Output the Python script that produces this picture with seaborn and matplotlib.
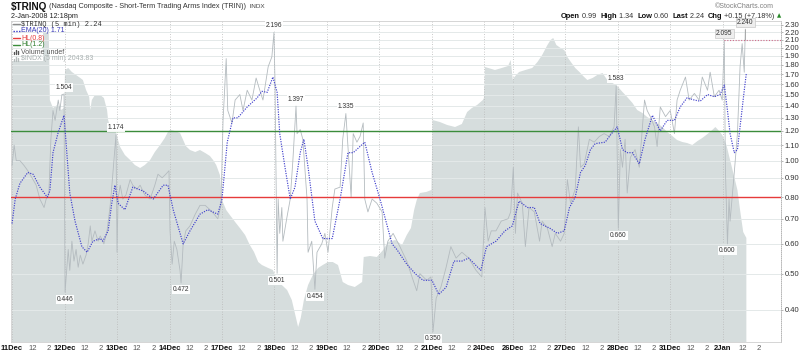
import matplotlib
matplotlib.use('Agg')
import matplotlib.pyplot as plt
import numpy as np
import pandas as pd
import seaborn as sns
from matplotlib.lines import Line2D
from matplotlib.patches import Rectangle
from matplotlib.ticker import NullLocator

# trading sessions shown on the x axis (x unit = one full trading day)
days = ['11Dec', '12Dec', '13Dec', '14Dec', '17Dec', '18Dec', '19Dec', '20Dec',
        '21Dec', '24Dec', '26Dec', '27Dec', '28Dec', '31Dec', '2Jan']
session_hours = [6.5, 6.5, 6.5, 6.5, 6.5, 6.5, 6.5, 6.5, 6.5, 3.5, 6.5, 6.5, 6.5, 6.5, 6.5]
hour_labels = ['12', '2']
hour_offsets = [2.5, 4.5]   # hours after the open

# $TRINQ 5 min
trin_t = [0.00, 0.04, 0.08, 0.15, 0.23, 0.30, 0.38, 0.46, 0.53, 0.61, 0.65, 0.70, 0.74, 0.78,
          0.82, 0.88, 0.91, 0.95, 0.99, 1.01, 1.07, 1.10, 1.14, 1.18, 1.22, 1.26, 1.30, 1.35,
          1.41, 1.45, 1.49, 1.52, 1.58, 1.64, 1.68, 1.75, 1.81, 1.87, 1.92, 1.98, 2.00, 2.02,
          2.06, 2.11, 2.17, 2.25, 2.30, 2.38, 2.44, 2.53, 2.63, 2.72, 2.78, 2.86, 2.93, 2.99,
          3.01, 3.05, 3.09, 3.14, 3.20, 3.22, 3.26, 3.31, 3.39, 3.49, 3.58, 3.68, 3.77, 3.85,
          3.92, 3.98, 4.02, 4.08, 4.11, 4.19, 4.25, 4.34, 4.40, 4.48, 4.57, 4.65, 4.72, 4.78,
          4.88, 4.95, 4.99, 5.01, 5.05, 5.07, 5.10, 5.14, 5.16, 5.24, 5.30, 5.35, 5.41, 5.43,
          5.49, 5.54, 5.62, 5.64, 5.71, 5.77, 5.81, 5.90, 5.96, 6.02, 6.10, 6.15, 6.25, 6.30,
          6.36, 6.40, 6.46, 6.50, 6.57, 6.63, 6.69, 6.72, 6.78, 6.86, 6.95, 7.05, 7.10, 7.16,
          7.26, 7.39, 7.52, 7.62, 7.71, 7.77, 7.90, 7.98, 8.02, 8.08, 8.17, 8.27, 8.36, 8.46,
          8.57, 8.70, 8.84, 8.95, 9.01, 9.07, 9.13, 9.22, 9.32, 9.45, 9.50, 9.55, 9.59, 9.63,
          9.72, 9.78, 9.85, 9.95, 10.05, 10.10, 10.20, 10.29, 10.35, 10.45, 10.52, 10.58,
          10.64, 10.73, 10.79, 10.83, 10.90, 11.00, 11.09, 11.19, 11.28, 11.38, 11.47, 11.51,
          11.55, 11.59, 11.63, 11.68, 11.72, 11.78, 11.87, 11.95, 12.05, 12.10, 12.16, 12.24,
          12.29, 12.35, 12.45, 12.54, 12.62, 12.67, 12.73, 12.83, 12.90, 13.00, 13.09, 13.15,
          13.25, 13.30, 13.38, 13.47, 13.53, 13.57, 13.59, 13.63, 13.66, 13.68, 13.76, 13.82,
          13.87, 13.91, 13.95, 13.97]
trin_v = [0.97, 1.10, 1.00, 1.00, 0.97, 0.94, 0.90, 0.86, 0.79, 0.75, 0.79, 0.81, 1.14, 1.36,
          1.28, 1.45, 1.36, 1.50, 1.504, 0.446, 0.58, 0.51, 0.61, 0.54, 0.58, 0.52, 0.56, 0.53,
          0.56, 0.60, 0.67, 0.61, 0.65, 0.61, 0.63, 0.60, 0.65, 0.76, 0.92, 1.174, 0.57, 0.79,
          0.86, 0.79, 0.81, 0.89, 0.86, 0.84, 0.86, 0.81, 0.79, 0.86, 0.92, 0.90, 0.92, 0.94,
          0.65, 0.53, 0.61, 0.58, 0.51, 0.472, 0.60, 0.65, 0.67, 0.72, 0.76, 0.76, 0.74, 0.72,
          0.70, 0.76, 1.28, 1.87, 1.36, 1.26, 1.45, 1.50, 1.36, 1.54, 1.45, 1.66, 1.54, 1.45,
          1.78, 1.89, 2.196, 1.61, 0.501, 0.79, 0.64, 0.75, 0.61, 0.71, 0.79, 1.00, 1.397, 1.18,
          1.21, 1.14, 0.79, 0.57, 0.61, 0.454, 0.57, 0.60, 0.64, 0.57, 0.75, 0.84, 0.85, 1.14,
          1.335, 1.09, 0.80, 1.18, 1.12, 1.16, 1.26, 0.79, 0.73, 0.79, 0.77, 0.73, 0.55, 0.61,
          0.64, 0.59, 0.54, 0.49, 0.45, 0.50, 0.48, 0.49, 0.350, 0.43, 0.46, 0.52, 0.59, 0.55,
          0.57, 0.55, 0.51, 0.49, 0.75, 0.61, 0.65, 0.65, 0.69, 0.70, 0.73, 0.96, 0.64, 0.82,
          0.77, 0.59, 0.75, 0.73, 0.61, 0.69, 0.66, 0.59, 0.64, 0.61, 0.64, 0.89,
          0.77, 0.84, 1.23, 0.96, 0.98, 1.14, 1.12, 1.16, 1.18, 1.16, 1.23, 1.583,
          0.660, 1.07, 0.96, 1.14, 0.82, 1.02, 1.07, 0.96, 1.45, 1.36, 1.31, 1.23,
          1.09, 1.39, 1.31, 1.36, 1.18, 1.45, 1.54, 1.67, 1.45, 1.51, 1.45, 1.67,
          1.54, 1.72, 1.48, 1.54, 1.45, 2.095, 0.96, 0.600, 0.79, 0.69, 0.93, 1.18,
          1.78, 2.05, 1.72, 2.24]

# EMA(20) of $TRINQ
ema_t = [0.00, 0.06, 0.15, 0.30, 0.40, 0.53, 0.67, 0.72, 0.78, 0.88, 0.99, 1.05, 1.10, 1.20,
         1.33, 1.43, 1.54, 1.68, 1.73, 1.83, 1.90, 1.96, 2.02, 2.15, 2.30, 2.50, 2.69, 2.88,
         2.97, 3.07, 3.26, 3.39, 3.58, 3.73, 3.92, 4.00, 4.10, 4.21, 4.30, 4.48, 4.67, 4.76,
         4.86, 4.97, 5.05, 5.10, 5.20, 5.30, 5.39, 5.49, 5.56, 5.64, 5.77, 5.92, 6.10, 6.25,
         6.40, 6.50, 6.72, 6.86, 7.01, 7.24, 7.33, 7.52, 7.68, 7.83, 8.00, 8.13, 8.27, 8.42,
         8.57, 8.70, 8.93, 9.04, 9.22, 9.39, 9.53, 9.66, 9.82, 9.95, 10.06, 10.25, 10.39,
         10.52, 10.62, 10.73, 10.83, 10.92, 11.02, 11.11, 11.30, 11.40, 11.53, 11.63, 11.72,
         11.82, 11.95, 12.06, 12.20, 12.35, 12.48, 12.62, 12.73, 12.86, 13.00, 13.11, 13.25,
         13.38, 13.49, 13.57, 13.63, 13.68, 13.76, 13.82, 13.87, 13.95, 13.99]
ema_v = [0.68, 0.79, 0.87, 0.93, 0.92, 0.85, 0.80, 0.83, 1.05, 1.19, 1.32, 1.02, 0.82, 0.69,
         0.59, 0.57, 0.61, 0.62, 0.61, 0.65, 0.77, 0.86, 0.77, 0.74, 0.85, 0.83, 0.79, 0.86,
         0.86, 0.74, 0.60, 0.65, 0.72, 0.74, 0.72, 0.79, 1.12, 1.30, 1.30, 1.39, 1.47, 1.53,
         1.52, 1.67, 1.52, 1.18, 0.96, 0.79, 0.85, 1.05, 1.14, 0.96, 0.69, 0.62, 0.62, 0.79,
         1.05, 1.05, 1.12, 0.93, 0.79, 0.60, 0.58, 0.53, 0.50, 0.48, 0.48, 0.44, 0.46, 0.54,
         0.54, 0.55, 0.51, 0.59, 0.61, 0.65, 0.67, 0.78, 0.75, 0.75, 0.68, 0.66, 0.64,
         0.65, 0.75, 0.80, 0.93, 0.97, 1.07, 1.11, 1.12, 1.17, 1.23, 1.07, 1.05,
         1.05, 0.98, 1.14, 1.32, 1.20, 1.28, 1.28, 1.39, 1.47, 1.45, 1.44, 1.50,
         1.48, 1.50, 1.59, 1.36, 1.18, 1.05, 1.07, 1.23, 1.54, 1.71]

# $INDX 5 min (drawn as the grey area)
indx_t = [0.00, 0.15, 0.34, 0.53, 0.65, 0.70, 0.72, 0.78, 0.86, 0.93, 0.99, 1.01, 1.07, 1.14,
          1.22, 1.30, 1.35, 1.41, 1.47, 1.49, 1.52, 1.58, 1.68, 1.75, 1.81, 1.83, 1.87, 1.96,
          2.02, 2.06, 2.15, 2.25, 2.34, 2.44, 2.53, 2.63, 2.72, 2.82, 2.91, 2.97, 3.01, 3.10,
          3.20, 3.26, 3.31, 3.39, 3.49, 3.58, 3.68, 3.77, 3.83, 3.89, 3.96, 4.00, 4.08, 4.15,
          4.25, 4.34, 4.44, 4.53, 4.61, 4.69, 4.76, 4.88, 4.97, 5.05, 5.14, 5.24, 5.33, 5.41,
          5.45, 5.50, 5.56, 5.64, 5.73, 5.83, 5.92, 6.02, 6.11, 6.21, 6.30, 6.40, 6.53, 6.67,
          6.70, 6.82, 6.95, 7.07, 7.16, 7.30, 7.43, 7.52, 7.60, 7.66, 7.71, 7.77, 7.89, 7.99,
          8.01, 8.15, 8.29, 8.44, 8.57, 8.67, 8.76, 8.86, 8.97, 8.99, 9.01, 9.20, 9.33, 9.45,
          9.50, 9.54, 9.57, 9.66, 9.78, 9.91, 10.01, 10.10, 10.20, 10.26, 10.31, 10.37, 10.45,
          10.52, 10.58, 10.66, 10.73, 10.81, 10.88, 10.96, 11.06, 11.15, 11.25, 11.34, 11.44,
          11.53, 11.63, 11.72, 11.82, 11.91, 12.01, 12.10, 12.20, 12.29, 12.39, 12.48, 12.58,
          12.67, 12.77, 12.86, 12.96, 13.06, 13.15, 13.25, 13.34, 13.40, 13.47, 13.53, 13.61,
          13.68, 13.76, 13.82, 13.87, 13.93, 13.99]
indx_v = [2123.0, 2124.6, 2125.4, 2125.8, 2126.2, 2125.8, 2099.0, 2095.8, 2097.0, 2095.0,
          2095.8, 2111.0, 2111.8, 2110.2, 2109.0, 2107.8, 2107.0, 2103.0, 2100.2, 2095.0,
          2099.0, 2101.0, 2101.0, 2099.8, 2095.0, 2091.0, 2088.2, 2087.8, 2083.0, 2080.2,
          2077.0, 2075.0, 2073.0, 2071.8, 2073.0, 2075.0, 2078.2, 2081.0, 2083.8, 2086.2,
          2087.0, 2086.6, 2085.8, 2083.0, 2080.6, 2079.0, 2078.2, 2079.0, 2077.8, 2076.6,
          2075.0, 2073.0, 2069.0, 2059.0, 2055.0, 2053.0, 2050.2, 2047.8, 2045.0, 2041.0,
          2038.2, 2034.2, 2033.0, 2031.8, 2031.0, 2027.0, 2025.0, 2023.0, 2019.0, 2011.8,
          2008.2, 2011.8, 2019.0, 2025.0, 2029.0, 2031.8, 2033.0, 2034.2, 2034.2, 2033.0,
          2026.2, 2025.0, 2024.2, 2026.2, 2036.2, 2036.6, 2036.2, 2039.0, 2042.2, 2043.0,
          2041.0, 2045.0, 2047.8, 2055.0, 2059.0, 2061.8, 2062.2, 2063.0, 2091.0, 2090.2,
          2089.0, 2088.2, 2089.4, 2094.2, 2095.8, 2097.0, 2099.0, 2099.8, 2112.2, 2111.0,
          2111.8, 2112.6, 2115.0, 2107.0, 2108.2, 2110.2, 2111.0, 2111.8, 2114.2, 2117.0,
          2121.0, 2123.0, 2123.8, 2121.0, 2119.8, 2119.0, 2116.2, 2113.8, 2111.8, 2110.2,
          2108.6, 2107.0, 2107.8, 2109.0, 2109.8, 2107.0, 2105.8, 2104.6, 2102.2, 2100.2,
          2097.8, 2095.0, 2093.8, 2092.2, 2091.0, 2089.8, 2088.2, 2086.2, 2084.6, 2083.0,
          2082.2, 2081.8, 2081.0, 2082.6, 2083.8, 2085.4, 2087.0, 2088.2, 2086.6, 2085.0,
          2081.0, 2075.0, 2068.2, 2063.0, 2055.0, 2046.2, 2043.83]

# labelled highs / lows of $TRINQ
peak_t = [0.99, 1.01, 1.98, 3.22, 4.99, 5.05, 5.41, 5.77, 6.36, 8.02, 11.51, 11.55, 13.57, 13.63, 13.97]
peak_v = [1.504, 0.446, 1.174, 0.472, 2.196, 0.501, 1.397, 0.454, 1.335, 0.350, 1.583, 0.660,
          2.095, 0.600, 2.240]
peak_up = [True, False, True, False, True, False, True, False, True, False, True, False,
           True, False, True]

y_ticks = [0.40, 0.50, 0.60, 0.70, 0.80, 0.90, 1.00, 1.10, 1.20, 1.30, 1.40, 1.50, 1.60,
           1.70, 1.80, 1.90, 2.00, 2.10, 2.20, 2.30]
hl_low, hl_high = 0.8, 1.2

sns.set_style('white')
plt.rcParams['font.family'] = ['Liberation Sans', 'DejaVu Sans']

W, H = 800, 354
fig = plt.figure(figsize=(8, 3.54), dpi=100)
ax = fig.add_axes([11 / W, 1 - 342 / H, 770 / W, 321 / H])
ax2 = ax.twinx()
ax.set_zorder(2)
ax2.set_zorder(1)
ax.patch.set_visible(False)

# price area behind everything
ax2.fill_between(indx_t, indx_v, 1900, color='#d6dddd', linewidth=0)
ax2.set_ylim(2002.2, 2130.6)
ax2.set_yticks([])
for s in ax2.spines.values():
    s.set_visible(False)

trin = pd.DataFrame({'t': trin_t, 'v': trin_v})
ema = pd.DataFrame({'t': ema_t, 'v': ema_v})
sns.lineplot(data=trin, x='t', y='v', ax=ax, color='#b4bbbf', linewidth=0.6,
             estimator=None, sort=False, zorder=3)
ax.axhline(hl_low, color='#e63b3b', linewidth=1.0, zorder=4)
ax.axhline(hl_high, color='#3b8c3b', linewidth=1.0, zorder=4)
sns.lineplot(data=ema, x='t', y='v', ax=ax, color='#4040cc', linewidth=0.85,
             linestyle=(0, (1, 1.1)), estimator=None, sort=False, zorder=5)

# dotted level at the 2.095 high
ax.hlines(peak_v[12], peak_t[12], 14.65, colors='#d06a8a', linestyles=(0, (1, 1.5)),
          linewidth=0.8, zorder=4)
ax.vlines(peak_t[14], peak_v[12], peak_v[14], colors='#999999', linewidth=0.5, zorder=4)

ax.set_yscale('log')
ax.set_ylim(0.3287, 2.355)
ax.set_xlim(-0.02, 14.65)
ax.yaxis.tick_right()
ax.set_yticks(y_ticks)
ax.set_yticklabels([f'{v:.2f}' for v in y_ticks])
ax.yaxis.set_minor_locator(NullLocator())
ax.set_xlabel('')
ax.set_ylabel('')

starts = np.concatenate([[0], np.cumsum(np.array(session_hours) / 6.5)[:-1]])
ax.set_xticks(starts)
ax.set_xticklabels(days)
minor_pos, minor_lab = [], []
for d, s, h in zip(days, starts, session_hours):
    if h < 6.5:
        continue
    for lab, off in zip(hour_labels, hour_offsets):
        minor_pos.append(s + off / 6.5)
        minor_lab.append(lab)
ax.set_xticks(minor_pos, minor=True)
ax.set_xticklabels(minor_lab, minor=True)
for lab in ax.get_xticklabels():
    lab.set_fontweight('bold')
ax.tick_params(axis='x', which='both', length=0, pad=2, labelsize=5.5, labelcolor='#111111')
ax.tick_params(axis='x', which='minor', labelcolor='#555555')
ax.tick_params(axis='y', which='major', length=1.5, pad=1, labelsize=5.5, labelcolor='#333333',
               color='#999999', width=0.5)

ax.set_axisbelow(True)
ax.grid(axis='y', which='major', color='#e4e9e9', linewidth=0.7)
ax.grid(axis='x', which='major', color='#b9b9b9', linestyle=(0, (1, 2)), linewidth=0.6)
for side, s in ax.spines.items():
    s.set_color('#cfcfcf')
    s.set_linewidth(0.6)
ax.spines['right'].set_linestyle((0, (1, 1.5)))
ax.spines['right'].set_color('#aaaaaa')

for t, v, up in zip(peak_t, peak_v, peak_up):
    boxed = v in (2.095, 2.240)
    ax.annotate(f'{v:.3f}', xy=(t, v), xytext=(0, 2.5 if up else -2.5), textcoords='offset points',
                ha='center', va='bottom' if up else 'top', fontsize=4.8, color='#333333',
                bbox=dict(boxstyle='square,pad=0.15', fc='#eeeeee' if boxed else 'white',
                          ec='#bbbbbb' if boxed else 'none', lw=0.4, alpha=0.95),
                zorder=7, annotation_clip=False)


def fx(px):
    return px / W


def fy(py):
    return 1 - py / H


# legend block, top left of the plot
fig.patches.append(Rectangle((fx(11.5), fy(61)), (43 - 11.5) / W, 39.5 / H, transform=fig.transFigure,
                             facecolor='white', edgecolor='none', zorder=1))
leg_rows = [
    ('$TRINQ (5 min) 2.24', '#333333', '#8c8c8c', '-', 'Liberation Mono'),
    ('EMA(20) 1.71', '#3838b8', '#3838c8', ':', None),
    ('HL(0.8)', '#e63b3b', '#e63b3b', '-', None),
    ('HL(1.2)', '#2f7f2f', '#3b8c3b', '-', None),
    ('Volume undef', '#555555', '#555555', 'bars', None),
    ('$INDX (5 min) 2043.83', '#a9b0b0', '#b4bbbb', 'bars', None),
]
for i, (txt, tc, mc, kind, fam) in enumerate(leg_rows):
    yy = 24 + i * 7
    if kind == 'bars':
        for bx, bh in zip([13.5, 15.5, 17.5], [2.5, 4.5, 3.0]):
            fig.add_artist(Line2D([fx(bx), fx(bx)], [fy(yy + 2), fy(yy + 2 - bh)], color=mc,
                                  linewidth=1.0, transform=fig.transFigure, zorder=8))
    else:
        fig.add_artist(Line2D([fx(13), fx(19.5)], [fy(yy), fy(yy)], color=mc, linewidth=1.0,
                              linestyle=kind if kind == '-' else (0, (1, 1)),
                              transform=fig.transFigure, zorder=8))
    kw = dict(fontsize=5.0, color=tc, va='center', ha='left', zorder=8)
    if fam:
        kw['family'] = fam
    fig.text(fx(21), fy(yy), txt, **kw)

renderer = fig.canvas.get_renderer()


def run(x_px, y_px, pieces, align='left'):
    objs = []
    for txt, kw in pieces:
        objs.append(fig.text(0, fy(y_px), txt, va='center', ha='left', **kw))
    widths = [o.get_window_extent(renderer).width for o in objs]
    x = x_px - sum(widths) if align == 'right' else x_px
    for o, w in zip(objs, widths):
        o.set_x(fx(x))
        x += w


run(11, 7, [('$TRINQ', dict(fontsize=7.2, fontweight='bold', color='#111111')),
            (' (Nasdaq Composite - Short-Term Trading Arms Index (TRIN))', dict(fontsize=5.2, color='#333333')),
            ('  INDX', dict(fontsize=4.6, color='#444444'))])
fig.text(fx(11), fy(16), '2-Jan-2008 12:18pm', fontsize=5.2, color='#222222', va='center', ha='left')
fig.text(fx(774), fy(6), '\u00a9StockCharts.com', fontsize=5.0, color='#808080', va='center', ha='right')

bold = dict(fontsize=5.4, fontweight='bold', color='#111111')
norm = dict(fontsize=5.2, color='#333333')
run(781, 16, [('Open', bold), (' 0.99  ', norm), ('High', bold), (' 1.34  ', norm),
              ('Low', bold), (' 0.60  ', norm), ('Last', bold), (' 2.24  ', norm),
              ('Chg', bold), (' +0.15 (+7.18%) ', norm),
              ('\u25b2', dict(fontsize=4.0, color='#2a8a2a', family=['DejaVu Sans']))], align='right')

fig.savefig('out.png', dpi=100)
